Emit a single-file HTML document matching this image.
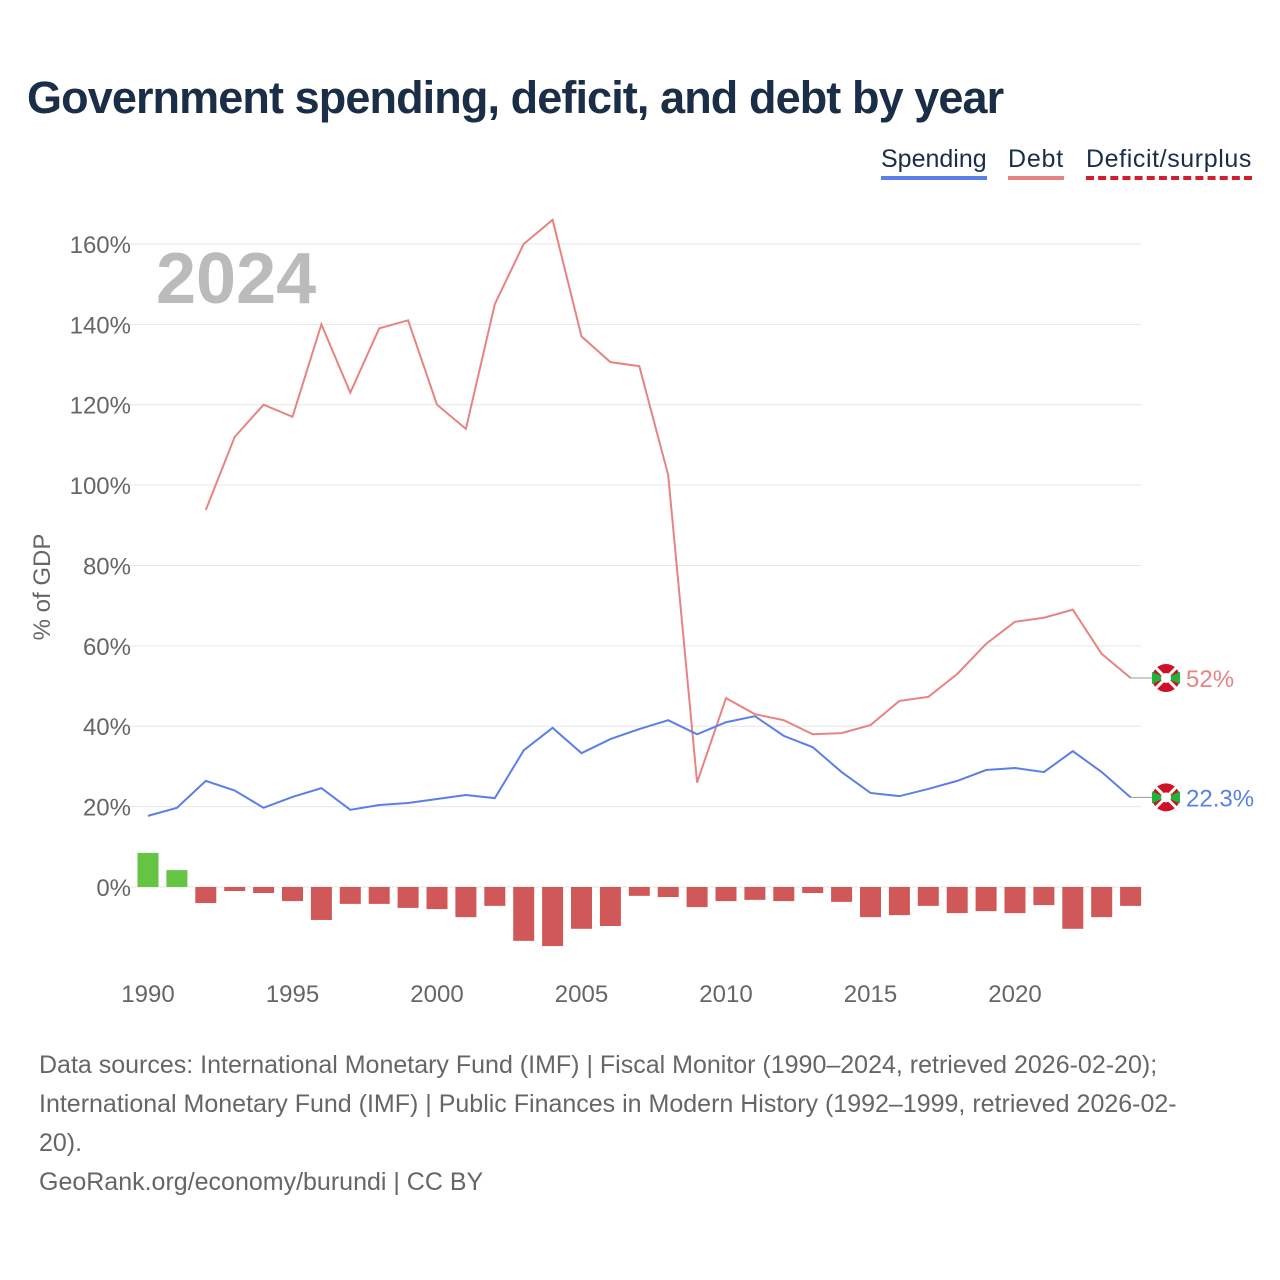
<!DOCTYPE html>
<html><head><meta charset="utf-8">
<style>
body{margin:0;background:#fff;font-family:"Liberation Sans",sans-serif;}
#wrap{position:relative;width:1280px;height:1280px;overflow:hidden;}
h1{position:absolute;left:27px;top:72px;margin:0;font-size:45px;font-weight:bold;color:#1a2e48;letter-spacing:-0.9px;}
.leg{position:absolute;top:145px;font-size:25px;color:#1a2e48;padding-bottom:2px;}
.src{position:absolute;left:39px;top:1046px;width:1230px;font-size:25px;line-height:39px;color:#666;}
</style></head><body>
<div id="wrap">
<h1>Government spending, deficit, and debt by year</h1>
<div class="leg" style="left:881px;border-bottom:4px solid #5b7fe8;">Spending</div>
<div class="leg" style="left:1008px;border-bottom:4px solid #e88383;letter-spacing:0.8px;">Debt</div>
<div class="leg" style="left:1086px;border-bottom:4px dashed #d02030;letter-spacing:0.6px;">Deficit/surplus</div>
<svg id="chart" width="1280" height="1040" style="position:absolute;left:0;top:0"></svg>
<div class="src">Data sources: International Monetary Fund (IMF) | Fiscal Monitor (1990–2024, retrieved 2026-02-20);<br>International Monetary Fund (IMF) | Public Finances in Modern History (1992–1999, retrieved 2026-02-<br>20).<br>GeoRank.org/economy/burundi | CC BY</div>
</div>
<script>
const years=[];for(let y=1990;y<=2024;y++)years.push(y);
const debt=[null,null,93.8,112,120,117,140,123,139,141,120,114,145,160,166,137,130.6,129.6,102.5,26,47,43,41.5,38,38.3,40.3,46.3,47.3,53,60.5,66,67,69,58,52];
const spending=[17.7,19.7,26.4,24,19.7,22.4,24.6,19.2,20.4,20.9,21.9,22.9,22.1,34,39.6,33.3,36.8,39.3,41.5,38,41,42.5,37.6,34.8,28.6,23.4,22.6,24.4,26.4,29.1,29.6,28.6,33.8,28.6,22.3];
const deficit=[8.5,4.2,-4,-1,-1.5,-3.5,-8.2,-4.2,-4.2,-5.2,-5.5,-7.5,-4.7,-13.4,-14.7,-10.4,-9.7,-2.2,-2.5,-5,-3.5,-3.2,-3.5,-1.5,-3.7,-7.5,-7,-4.7,-6.5,-6,-6.5,-4.5,-10.4,-7.5,-4.7];
const yTicks=[0,20,40,60,80,100,120,140,160];
const xTicks=[1990,1995,2000,2005,2010,2015,2020];
const svg=document.getElementById('chart');const NS='http://www.w3.org/2000/svg';
const X=y=>148+(y-1990)*28.9;const Y=v=>887-v*4.019;
function mk(t,a,p){const e=document.createElementNS(NS,t);for(const k in a)e.setAttribute(k,a[k]);(p||svg).appendChild(e);return e;}
yTicks.forEach(v=>{
 const l=mk('line',{x1:130,x2:1141,y1:Y(v),y2:Y(v),stroke:'#e6e6e6','stroke-width':1});
 
 
 const t=mk('text',{x:131,y:Y(v)+9,'text-anchor':'end','font-size':24,fill:'#666','font-family':'Liberation Sans'});
 t.textContent=v+'%';
 
 
});
xTicks.forEach(v=>{
 const t=mk('text',{x:X(v),y:1002,'text-anchor':'middle','font-size':24,fill:'#666','font-family':'Liberation Sans'});
 t.textContent=v;
 
 
});
const yt=mk('text',{x:0,y:0,transform:'translate(50,587) rotate(-90)','text-anchor':'middle','font-size':24,fill:'#666','font-family':'Liberation Sans'});
yt.textContent='% of GDP';


const yr=mk('text',{x:156,y:303,'font-size':72,'font-weight':'bold',fill:'#bbb','font-family':'Liberation Sans'});
yr.textContent='2024';


deficit.forEach((v,i)=>{
 const b=mk('rect',{x:X(years[i])-10.5,width:21,y:Math.min(Y(v),Y(0)),height:Math.abs(Y(v)-Y(0)),fill:v>=0?'#66c444':'#d05858'});
 
 
});
function line(data,color,name){
 let d='';data.forEach((v,i)=>{if(v==null)return;d+=(d?'L':'M')+X(years[i])+','+Y(v);});
 const p=mk('path',{d:d,fill:'none',stroke:color,'stroke-width':2});
 
 
}
line(debt,'#e88383','debt-line');line(spending,'#5b7fe8','spending-line');
function endMark(v,color,label,name){
 const y=Y(v);
 mk('line',{x1:X(2024),x2:1158,y1:y,y2:y,stroke:'#999','stroke-width':1});
 const g=mk('g',{});
 
 
 mk('circle',{cx:1166,cy:y,r:14,fill:'#ce1126'},g);
 mk('path',{d:`M${1166-14},${y-6}L1166,${y}L${1166-14},${y+6}Z M${1166+14},${y-6}L1166,${y}L${1166+14},${y+6}Z`,fill:'#1eb53a'},g);
 mk('line',{x1:1156,y1:y-10,x2:1176,y2:y+10,stroke:'#fff','stroke-width':3},g);
 mk('line',{x1:1156,y1:y+10,x2:1176,y2:y-10,stroke:'#fff','stroke-width':3},g);
 mk('circle',{cx:1166,cy:y,r:5,fill:'#fff'},g);
 const t=mk('text',{x:1186,y:y+9,'font-size':24,fill:color,'font-family':'Liberation Sans'});
 t.textContent=label;
 
 
}
endMark(debt[debt.length-1],'#e88383',debt[debt.length-1]+'%','debt');
endMark(spending[spending.length-1],'#5b7fe8',spending[spending.length-1]+'%','spending');
</script>
</body></html>
